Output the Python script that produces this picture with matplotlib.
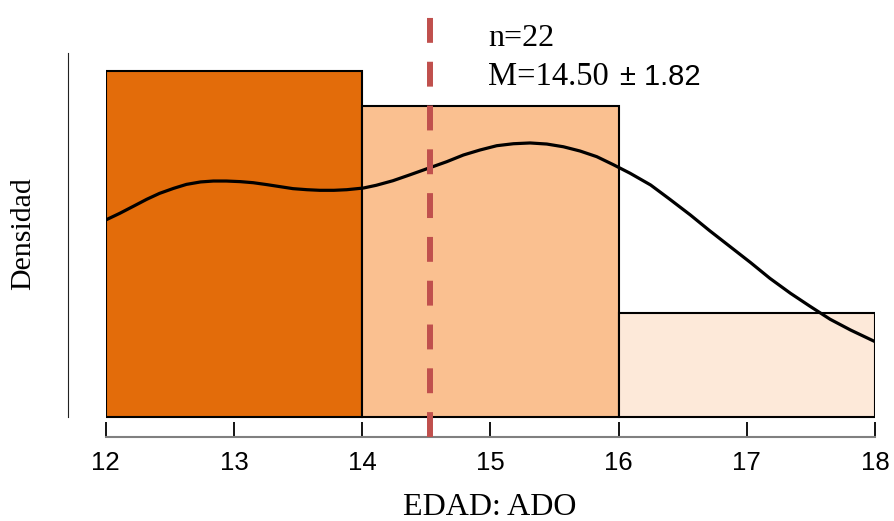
import numpy as np
import matplotlib.pyplot as plt

# datos: histograma de EDAD (ADO), n=22
bin_edges = [12, 14, 16, 18]
counts = [10, 9, 3]
n = 22
mean_line = 14.53
label_mean = "14.50"
label_sd = "1.82"
bar_colors = ["#E36C0A", "#FAC090", "#FDE9D9"]

# curva de densidad
kde_x = [12.00, 12.11, 12.22, 12.32, 12.42, 12.53, 12.63, 12.74, 12.84, 12.94,
         13.05, 13.15, 13.26, 13.36, 13.46, 13.57, 13.67, 13.78, 13.88, 14.01,
         14.11, 14.24, 14.37, 14.53, 14.66, 14.79, 14.92, 15.05, 15.18, 15.31,
         15.44, 15.57, 15.70, 15.83, 15.96, 16.09, 16.25, 16.40, 16.56, 16.71,
         16.87, 17.03, 17.18, 17.34, 17.49, 17.65, 17.81, 18.00]
kde_y = [0.1294, 0.1338, 0.1386, 0.1430, 0.1469, 0.1502, 0.1528, 0.1544, 0.1550, 0.1550,
         0.1546, 0.1539, 0.1526, 0.1513, 0.1500, 0.1493, 0.1489, 0.1489, 0.1493, 0.1504,
         0.1522, 0.1552, 0.1590, 0.1638, 0.1677, 0.1721, 0.1754, 0.1782, 0.1795, 0.1800,
         0.1793, 0.1775, 0.1747, 0.1710, 0.1657, 0.1601, 0.1524, 0.1430, 0.1327, 0.1224,
         0.1119, 0.1014, 0.0911, 0.0813, 0.0729, 0.0642, 0.0571, 0.0495]

xticks = [12, 13, 14, 15, 16, 17, 18]

serif = "Liberation Serif"
sans = "Liberation Sans"

fig = plt.figure(figsize=(8.94, 5.21), dpi=100)
ax = fig.add_axes([105.7 / 894, 1 - 437 / 521, (875 - 105.7) / 894, 437 / 521])

widths = np.diff(bin_edges)
dens = np.array(counts) / (n * widths)
ax.bar(bin_edges[:-1], dens, width=widths, align="edge", color=bar_colors,
       edgecolor="black", linewidth=1.5, zorder=2)

ax.plot(kde_x, kde_y, color="black", linewidth=2.3, solid_joinstyle="round",
        solid_capstyle="butt", zorder=3)

ax.axvline(mean_line, ymin=0, ymax=0.972, color="#C0504D", linewidth=4.3,
           linestyle=(0, (25 / 6, 19 / 6)), zorder=4)

ax.set_xlim(12, 18)
ax.set_ylim(-20 / 1522.4, 417 / 1522.4)

for s in ["top", "right"]:
    ax.spines[s].set_visible(False)
ax.spines["bottom"].set_color("#808080")
ax.spines["bottom"].set_linewidth(1.5)
ax.spines["left"].set_position(("outward", 27.4))
ax.spines["left"].set_bounds(0, 0.2391)
ax.spines["left"].set_linewidth(0.8)
ax.spines["left"].set_color("#222222")

ax.set_xticks(xticks)
ax.set_xticklabels([str(t) for t in xticks], fontfamily=sans, fontsize=18.5)
ax.tick_params(axis="x", direction="in", length=10.5, width=1.3, color="black", pad=10)
ax.set_yticks([])

fig.text(23 / 894, 1 - 234 / 521, "Densidad", rotation=90, fontfamily=serif,
         fontsize=21.5, ha="center", va="center")
fig.text(490 / 894, 1 - 515 / 521, "EDAD: ADO", fontfamily=serif, fontsize=23,
         ha="center", va="baseline")
fig.text(488 / 894, 1 - 46 / 521, "n=%d" % n, fontfamily=serif, fontsize=23,
         ha="left", va="baseline")
fig.text(488 / 894, 1 - 85 / 521, "M=%s" % label_mean, fontfamily=serif,
         fontsize=23.5, ha="left", va="baseline")
fig.text(620 / 894, 1 - 85 / 521, "± %s" % label_sd, fontfamily=sans,
         fontsize=21, ha="left", va="baseline")

fig.savefig("out.png", dpi=100)
